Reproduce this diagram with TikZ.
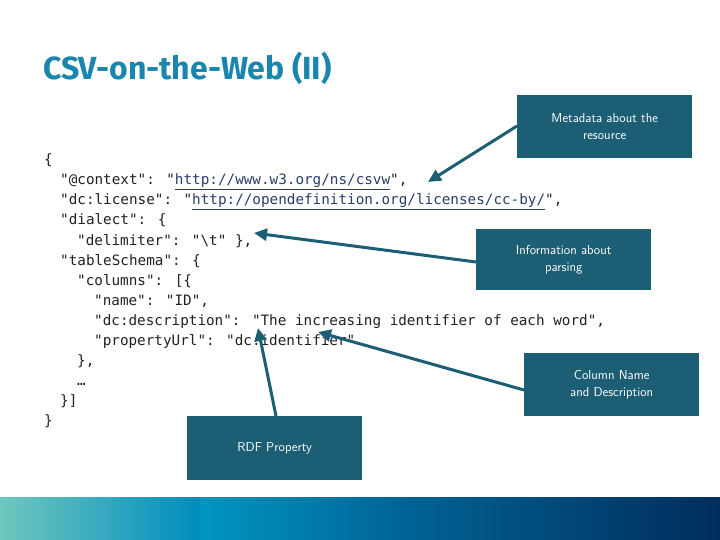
\documentclass[tikz,border=0pt]{standalone}
\usepackage{fontspec}
\setmainfont{Fira Sans}
\newfontfamily\codef{DejaVu Sans Mono}
\usetikzlibrary{arrows.meta}
\definecolor{boxc}{HTML}{1C5F74}
\definecolor{titc}{HTML}{1A86AE}
\definecolor{linkc}{HTML}{2A3E6A}
\definecolor{codec}{HTML}{222222}
\begin{document}
\begin{tikzpicture}[x=1pt,y=-1pt,
  code/.style={anchor=base west,inner sep=0pt,font=\codef\fontsize{14.3}{16}\selectfont,text=codec},
  box/.style={fill=boxc,text=white,minimum width=175pt,minimum height=63pt,align=center,inner sep=2pt,font=\fontsize{13}{17}\selectfont\sffamily},
  arr/.style={draw=boxc,line width=3pt,-{Triangle[length=13pt,width=12pt]}}]
\useasboundingbox (0,0) rectangle (720,540);
\fill[white] (0,0) rectangle (720,540);
\shade[left color={rgb,255:red,110;green,200;blue,190},right color={rgb,255:red,0;green,48;blue,96},middle color={rgb,255:red,0;green,140;blue,190}] (0,497) rectangle (360,540);
\shade[left color={rgb,255:red,0;green,140;blue,190},right color={rgb,255:red,0;green,45;blue,92}] (360,497) rectangle (720,540);
\fill[left color={rgb,255:red,110;green,200;blue,190},right color={rgb,255:red,0;green,140;blue,190}] (0,497) rectangle (200,540);
\shade[left color={rgb,255:red,0;green,150;blue,195},right color={rgb,255:red,0;green,100;blue,150}] (200,497) rectangle (400,540);
\shade[left color={rgb,255:red,0;green,100;blue,150},right color={rgb,255:red,0;green,45;blue,92}] (400,497) rectangle (720,540);
\node[anchor=base west,inner sep=0pt,text=titc,font=\fontsize{32}{36}\selectfont\bfseries] (title) at (43,80) {CSV-on-the-Web (II)};
\node[code] (l1) at (44,165) {\{};
\node[code] (l2) at (60,185) {"@context": "\textcolor{linkc}{\underline{http://www.w3.org/ns/csvw}}",};
\node[code] (l3) at (60,205) {"dc:license": "\textcolor{linkc}{\underline{http://opendefinition.org/licenses/cc-by/}}",};
\node[code] (l4) at (60,225) {"dialect": \{};
\node[code] (l5) at (77,245) {"delimiter": "\textbackslash t" \},};
\node[code] (l6) at (60,265) {"tableSchema": \{};
\node[code] (l7) at (77,285) {"columns": [\{};
\node[code] (l8) at (94,305) {"name": "ID",};
\node[code] (l9) at (94,325) {"dc:description": "The increasing identifier of each word",};
\node[code] (l10) at (94,345) {"propertyUrl": "dc:identifier"};
\node[code] (l11) at (77,365) {\},};
\node[code] (l12) at (77,385) {…};
\node[code] (l13) at (60,405) {\}]};
\node[code] (l14) at (44,425) {\}};
\node[box,anchor=north west] (meta) at (517,95) {Metadata about the\\resource};
\node[box,anchor=north west,minimum height=61pt] (info) at (476,229) {Information about\\parsing};
\node[box,anchor=north west] (col) at (524,353) {Column Name\\and Description};
\node[box,anchor=north west,minimum height=64pt] (rdf) at (187,416) {RDF Property};
\coordinate (t1) at (428,182);
\coordinate (t2) at (254,233);
\coordinate (t3) at (318,332);
\coordinate (t4) at (258,328);
\draw[arr] (meta.west |- 0,126) -- (t1);
\draw[arr] (info.west |- 0,262) -- (t2);
\draw[arr] (col.west |- 0,390) -- (t3);
\draw[arr] (276,416) -- (t4);
\end{tikzpicture}
\end{document}
